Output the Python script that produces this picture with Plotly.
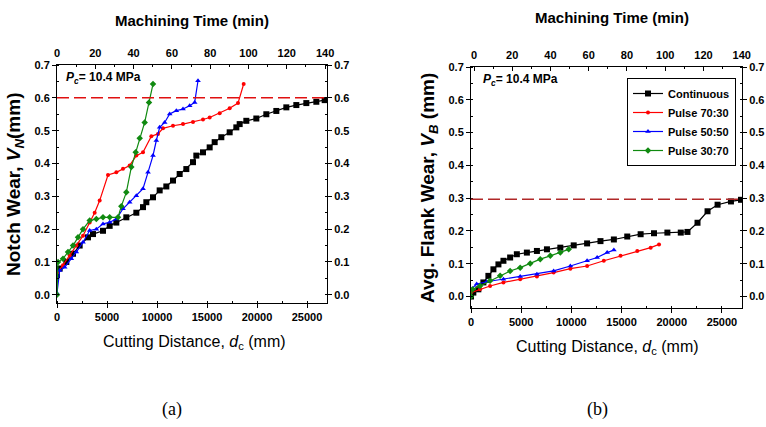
import plotly.graph_objects as go

# ---------------- data: (a) notch wear ----------------
a_cont_x = [0, 267, 933, 1600, 2267, 3100, 3600, 4600, 5267, 5933, 6933, 7933, 8600, 8933, 9600,
            10267, 10933, 11600, 12267, 12933, 13600, 13933, 14600, 15267, 15767, 16433, 17267,
            17933, 18267, 18933, 19933, 20933, 21933, 22933, 23933, 24933, 25933, 26767]
a_cont_y = [0.06, 0.08, 0.10, 0.125, 0.15, 0.175, 0.185, 0.195, 0.21, 0.22, 0.236, 0.25, 0.267,
            0.282, 0.297, 0.318, 0.33, 0.348, 0.368, 0.383, 0.404, 0.424, 0.434, 0.449, 0.465,
            0.48, 0.495, 0.51, 0.52, 0.53, 0.537, 0.55, 0.56, 0.571, 0.578, 0.584, 0.588, 0.593]

a_p70_x = [100, 600, 1267, 1933, 2600, 3267, 3767, 4267, 5100, 5933, 6600, 7267, 7933, 8600,
           9433, 10100, 10600, 11600, 12600, 13600, 14600, 15267, 16267, 17267, 18100, 18667]
a_p70_y = [0.069, 0.09, 0.12, 0.15, 0.18, 0.22, 0.25, 0.287, 0.365, 0.373, 0.384, 0.394, 0.424,
           0.434, 0.483, 0.49, 0.507, 0.515, 0.52, 0.526, 0.534, 0.54, 0.553, 0.568, 0.584, 0.642]

a_p50_x = [0, 267, 767, 1433, 1933, 2600, 3267, 3933, 4600, 5267, 5933, 6600, 7267, 7933, 8600,
           9100, 9600, 9933, 10267, 10767, 11267, 11933, 12600, 13267, 13767, 14100]
a_p50_y = [0.005, 0.074, 0.084, 0.11, 0.13, 0.16, 0.196, 0.2, 0.216, 0.221, 0.231, 0.262, 0.282,
           0.302, 0.323, 0.373, 0.424, 0.47, 0.51, 0.525, 0.551, 0.561, 0.566, 0.576, 0.586, 0.652]

a_p30_x = [0, 100, 600, 1100, 1600, 2100, 2600, 3267, 3933, 4600, 5267, 6100, 6433, 6933, 7433,
           7867, 8267, 8767, 9200, 9600]
a_p30_y = [0.0, 0.10, 0.11, 0.13, 0.15, 0.175, 0.20, 0.226, 0.231, 0.236, 0.236, 0.236, 0.27,
           0.312, 0.389, 0.434, 0.477, 0.525, 0.586, 0.642]

# ---------------- data: (b) average flank wear ----------------
b_cont_x = [0, 233, 733, 1233, 1733, 2233, 2733, 3233, 3900, 4567, 5567, 6567, 7567, 8900, 10233,
            11567, 12900, 14233, 15567, 16900, 18233, 19567, 20900, 21567, 22567, 23567, 24567,
            25900, 26900]
b_cont_y = [0.0, 0.012, 0.022, 0.043, 0.063, 0.083, 0.098, 0.109, 0.119, 0.129, 0.134, 0.139,
            0.144, 0.149, 0.156, 0.162, 0.169, 0.174, 0.183, 0.19, 0.193, 0.195, 0.195, 0.197,
            0.225, 0.26, 0.28, 0.29, 0.295]

b_p70_x = [0, 900, 1900, 3233, 4900, 6567, 8233, 9900, 11567, 13233, 14900, 16567, 17900, 18733]
b_p70_y = [0.012, 0.022, 0.032, 0.043, 0.053, 0.061, 0.073, 0.085, 0.093, 0.109, 0.124, 0.139,
           0.149, 0.159]

b_p50_x = [0, 567, 1567, 3233, 4900, 6567, 8233, 9900, 11567, 12567, 13567, 14233]
b_p50_y = [0.022, 0.038, 0.045, 0.053, 0.061, 0.068, 0.078, 0.093, 0.109, 0.119, 0.134, 0.142]

b_p30_x = [0, 167, 900, 1900, 2900, 3900, 4900, 5900, 6900, 7900, 8900, 9733]
b_p30_y = [0.0, 0.022, 0.032, 0.048, 0.063, 0.078, 0.088, 0.101, 0.114, 0.124, 0.134, 0.144]

series_names = ["Continuous", "Pulse 70:30", "Pulse 50:50", "Pulse 30:70"]
limit_a = 0.6
limit_b = 0.297

# ---------------- styling ----------------
W, H = 766, 427
SANS = "Liberation Sans"
SERIF = "Liberation Serif"
colors = ["#000000", "#ff0000", "#0000ff", "#108a10"]
symbols = ["square", "circle", "triangle-up", "diamond"]
msizes = [6, 4, 5, 5]

fig = go.Figure()

def add_series(xs, ys, xa, ya, show):
    for i, (x, y) in enumerate(zip(xs, ys)):
        fig.add_trace(go.Scatter(
            x=x, y=y, mode="lines+markers", name=series_names[i],
            xaxis=xa, yaxis=ya, showlegend=show, legendrank=i + 1,
            line=dict(color=colors[i], width=1.2),
            marker=dict(symbol=symbols[i], size=msizes[i], color=colors[i]),
        ))

add_series([a_cont_x, a_p70_x, a_p50_x, a_p30_x], [a_cont_y, a_p70_y, a_p50_y, a_p30_y], "x", "y", False)
add_series([b_cont_x, b_p70_x, b_p50_x, b_p30_x], [b_cont_y, b_p70_y, b_p50_y, b_p30_y], "x2", "y2", True)

# dummy traces so overlay axes (top / right) are drawn
for xa, ya in (("x3", "y3"), ("x4", "y4")):
    fig.add_trace(go.Scatter(x=[None], y=[None], xaxis=xa, yaxis=ya, showlegend=False,
                             hoverinfo="skip"))

def px_x(p):
    return p / W

def px_y(p):
    return (H - p) / H

tickf = dict(family=SANS, size=11, color="black", weight="bold")
common = dict(showline=True, linecolor="black", linewidth=1, showgrid=False, zeroline=False,
              ticks="outside", ticklen=4, tickcolor="black", tickfont=tickf, automargin=False)
minor_y = dict(dtick=0.05, ticks="inside", ticklen=2, tickcolor="black")
minor_x = dict(dtick=2500, ticks="inside", ticklen=2, tickcolor="black")
minor_t = dict(dtick=10, ticks="inside", ticklen=2, tickcolor="black")

dom_a_x = [px_x(57), px_x(327)]
dom_b_x = [px_x(471), px_x(742)]
dom_a_y = [px_y(303), px_y(65)]
dom_b_y = [px_y(308), px_y(67)]

fig.update_layout(
    template="none",
    width=W, height=H, margin=dict(l=0, r=0, t=0, b=0, pad=0, autoexpand=False),
    paper_bgcolor="white", plot_bgcolor="white", showlegend=True,
    xaxis=dict(common, domain=dom_a_x, anchor="y", range=[0, 27000], dtick=5000,
               tickformat="d", minor=minor_x),
    yaxis=dict(common, domain=dom_a_y, anchor="x", range=[-0.025, 0.7], dtick=0.1,
               tickformat=".1f", minor=minor_y),
    xaxis3=dict(common, overlaying="x", anchor="y", side="top", range=[0, 141], dtick=20,
                ticks="inside", ticklabelstandoff=3, minor=minor_t),
    yaxis3=dict(common, overlaying="y", anchor="x", side="right", range=[-0.025, 0.7], dtick=0.1,
                tickformat=".1f", minor=minor_y),
    xaxis2=dict(common, domain=dom_b_x, anchor="y2", range=[0, 27000], dtick=5000,
                tickformat="d", minor=minor_x),
    yaxis2=dict(common, domain=dom_b_y, anchor="x2", range=[-0.035, 0.7], dtick=0.1,
                tickformat=".1f", minor=minor_y),
    xaxis4=dict(common, overlaying="x2", anchor="y2", side="top", range=[-1.57, 140.16], dtick=20,
                ticks="inside", ticklabelstandoff=3, minor=minor_t),
    yaxis4=dict(common, overlaying="y2", anchor="x2", side="right", range=[-0.035, 0.7], dtick=0.1,
                tickformat=".1f", minor=minor_y),
    legend=dict(x=px_x(627), y=px_y(78), xanchor="left", yanchor="top",
                bordercolor="black", borderwidth=1, bgcolor="white",
                font=dict(family=SANS, size=11, color="black", weight="bold"),
                tracegroupgap=0, itemwidth=30),
)

# threshold lines
fig.add_shape(type="line", xref="x", yref="y", x0=0, x1=27000, y0=limit_a, y1=limit_a,
              line=dict(color="#e01010", width=1.5, dash="12px,5px"))
fig.add_shape(type="line", xref="x2", yref="y2", x0=0, x1=27000, y0=limit_b, y1=limit_b,
              line=dict(color="#b02828", width=1.5, dash="12px,5px"))

def ann(text, x, y, size, family=SANS, weight="normal", angle=0, xanchor="center"):
    fig.add_annotation(text=text, x=px_x(x), y=px_y(y), xref="paper", yref="paper",
                       showarrow=False, textangle=angle, xanchor=xanchor, yanchor="middle",
                       font=dict(family=family, size=size, color="black", weight=weight))

ann("Machining Time (min)", 192, 20, 15, weight="bold")
ann("Machining Time (min)", 612, 17, 15, weight="bold")
ann("Cutting Distance, <i>d</i><sub>c</sub> (mm)", 194, 342, 16)
ann("Cutting Distance, <i>d</i><sub>c</sub> (mm)", 607, 347, 16)
ann("Notch Wear, <i>V<sub>N</sub></i>(mm)", 15, 185, 19, weight="bold", angle=-90)
ann("Avg. Flank Wear, <i>V<sub>B</sub></i> (mm)", 429, 188, 19, weight="bold", angle=-90)
ann("<i>P<sub>c</sub></i>= 10.4 MPa", 64, 78, 12, weight="bold", xanchor="left")
ann("<i>P<sub>c</sub></i>= 10.4 MPa", 481, 80, 12, weight="bold", xanchor="left")
ann("(a)", 172, 409, 18, family=SERIF)
ann("(b)", 597, 409, 18, family=SERIF)

fig.write_html(
    "out.html",
    config={"displayModeBar": False},
    post_script="document.body.style.margin='0';document.body.style.overflow='hidden';",
)
